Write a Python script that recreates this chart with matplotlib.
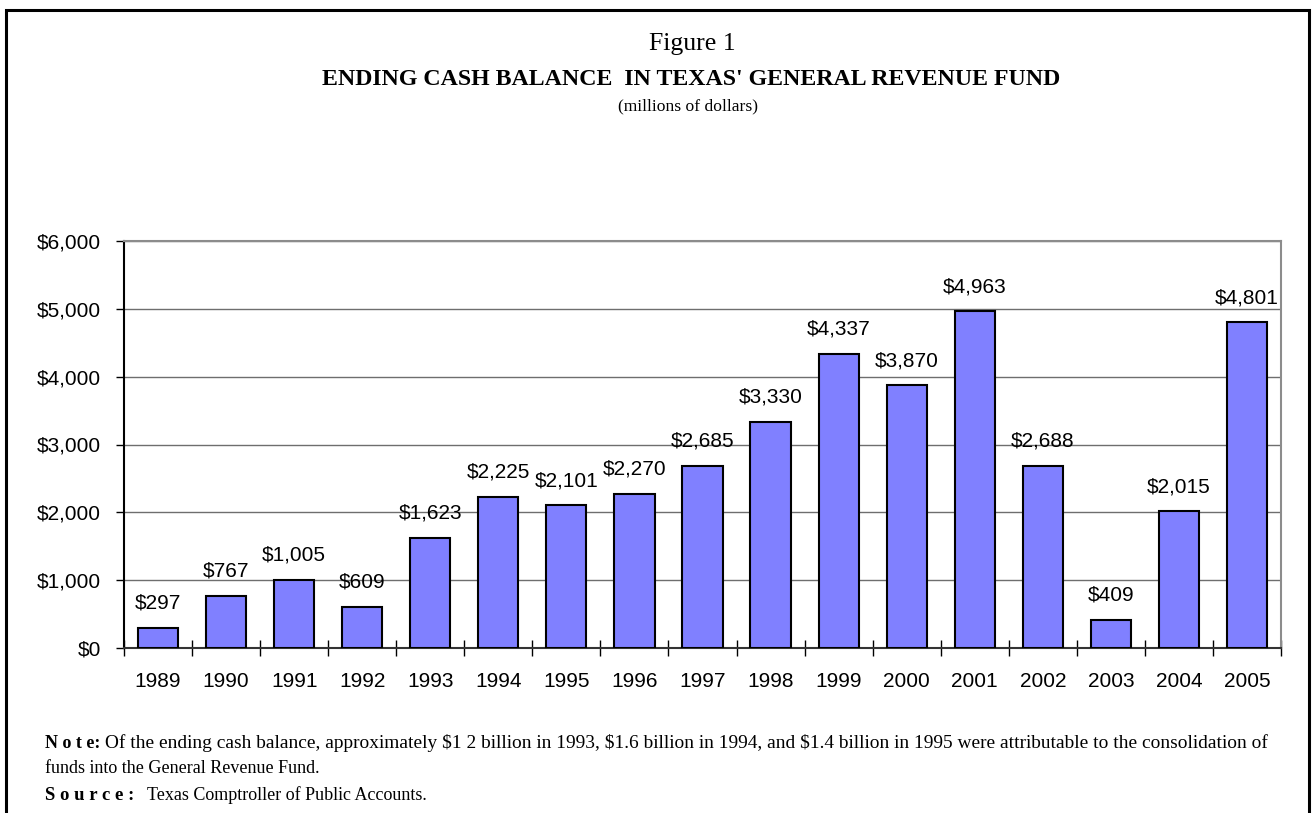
import matplotlib
matplotlib.use('Agg')
import matplotlib.pyplot as plt
from matplotlib.patches import Rectangle
from matplotlib.ticker import StrMethodFormatter, FixedLocator
import numpy as np

years = ['1989', '1990', '1991', '1992', '1993', '1994', '1995', '1996', '1997',
         '1998', '1999', '2000', '2001', '2002', '2003', '2004', '2005']
balance = [297, 767, 1005, 609, 1623, 2225, 2101, 2270, 2685,
           3330, 4337, 3870, 4963, 2688, 409, 2015, 4801]

W, H = 1312, 813
fig = plt.figure(figsize=(W / 100, H / 100), dpi=100)

ax = fig.add_axes([124 / W, 1 - 648 / H, (1281 - 124) / W, (648 - 241) / H])

x = np.arange(len(years))
ax.bar(x, balance, width=0.59, color='#8080FF', edgecolor='black', linewidth=1.5, zorder=3)

for xi, v in zip(x, balance):
    ax.annotate('${:,}'.format(v), (xi, v), xytext=(0, 11), textcoords='offset points',
                ha='center', va='bottom', fontsize=15, family='Liberation Sans')

ax.set_xlim(-0.5, len(years) - 0.5)
ax.set_ylim(0, 6000)
ax.set_yticks(range(0, 6001, 1000))
ax.yaxis.set_major_formatter(StrMethodFormatter('${x:,.0f}'))
ax.grid(axis='y', color='#6e6e6e', linewidth=1.0, zorder=0)

# category labels at centres, tick marks between categories
ax.set_xticks(x)
ax.set_xticklabels(years)
ax.xaxis.set_minor_locator(FixedLocator(np.arange(-0.5, len(years), 1.0)))
ax.tick_params(axis='x', which='major', length=0, pad=17)
ax.tick_params(axis='x', which='minor', direction='inout', length=11, width=1.0)
ax.tick_params(axis='y', direction='out', length=6, width=1.0, pad=10.5)
for lab in ax.get_xticklabels() + ax.get_yticklabels():
    lab.set_fontsize(15)
    lab.set_family('Liberation Sans')

ax.spines['left'].set_color('black')
ax.spines['bottom'].set_color('#333333')
ax.spines['top'].set_color('#8c8c8c')
ax.spines['right'].set_color('#8c8c8c')
for s in ax.spines.values():
    s.set_linewidth(1.5)

# titles
fig.text(692 / W, 1 - 50 / H, 'Figure 1', ha='center', va='baseline',
         fontsize=18.5, family='Liberation Serif')
fig.text(691 / W, 1 - 85 / H, "ENDING CASH BALANCE  IN TEXAS' GENERAL REVENUE FUND",
         ha='center', va='baseline', fontsize=17.2, fontweight='bold', family='Liberation Serif')
fig.text(688 / W, 1 - 110 / H, '(millions of dollars)', ha='center', va='baseline',
         fontsize=12.6, family='Liberation Serif')

# notes
fig.text(45 / W, 1 - 748 / H, 'N o t e:', ha='left', va='baseline', fontsize=13,
         fontweight='bold', family='Liberation Serif')
note1 = fig.text(105 / W, 1 - 748 / H,
                 'Of the ending cash balance, approximately $1 2 billion in 1993, $1.6 billion in 1994, '
                 'and $1.4 billion in 1995 were attributable to the consolidation of',
                 ha='left', va='baseline', fontsize=13, family='Liberation Serif')
fig.text(45 / W, 1 - 773 / H, 'funds into the General Revenue Fund.', ha='left', va='baseline',
         fontsize=13, family='Liberation Serif')
fig.text(45 / W, 1 - 800 / H, 'S o u r c e :', ha='left', va='baseline', fontsize=13.5,
         fontweight='bold', family='Liberation Serif')
fig.text(147 / W, 1 - 800 / H, 'Texas Comptroller of Public Accounts.', ha='left', va='baseline',
         fontsize=13, family='Liberation Serif')

# squeeze the long note line to the width it has in the original
fig.canvas.draw()
w = note1.get_window_extent().width
note1.set_fontsize(13 * (1263 - 105) / w)

# outer frame, open at the bottom edge of the picture
fig.patches.append(Rectangle((6 / W, -0.05), (1309 - 6) / W, 1.05 - 10 / H,
                             transform=fig.transFigure, fill=False,
                             edgecolor='black', linewidth=2.2))

fig.savefig('out.png', dpi=100)
